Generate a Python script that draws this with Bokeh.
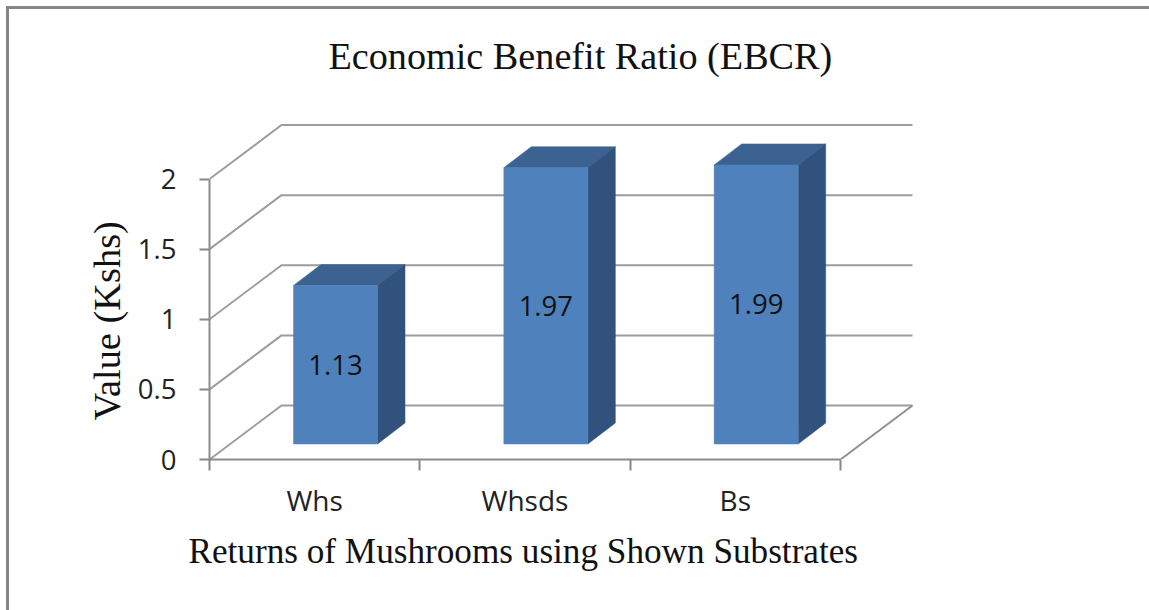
from bokeh.plotting import figure
from bokeh.models import FixedTicker, ColumnDataSource, InlineStyleSheet, Title
from bokeh.core.properties import value
from bokeh.embed import file_html
from bokeh.resources import INLINE

categories = ["Whs", "Whsds", "Bs"]
values = [1.13, 1.97, 1.99]
value_labels = ["1.13", "1.97", "1.99"]
y_ticks = [0, 0.5, 1, 1.5, 2]
y_tick_labels = ["0", "0.5", "1", "1.5", "2"]
title_text = "Economic Benefit Ratio (EBCR)"
x_title = "Returns of Mushrooms using Shown Substrates"
y_title = "Value (Kshs)"

PX_X = 210.33   # pixels per category
PX_Y = 140.25   # pixels per value unit
WALL_DX = 72 / PX_X
WALL_DY = 54 / PX_Y
BAR_LEFT = 84 / PX_X
BAR_W = 84 / PX_X
BAR_BASE = 15.5 / PX_Y
BAR_DX = 27.5 / PX_X
BAR_DY = 21 / PX_Y

W, H = 1149, 610
FL, FR, FT, FB = 209, 232, 121, 151
FW, FH = W - FL - FR, H - FT - FB

sheet = InlineStyleSheet(css="""
:host::before {content:""; position:fixed; z-index:10; left:6px; top:6px; width:2.5px; height:100vh; background:#868686;}
:host::after {content:""; position:fixed; z-index:10; left:6px; top:6px; height:2.5px; width:100vw; background:#868686;}
""")

p = figure(width=W, height=H, output_backend="svg", toolbar_location=None,
           x_range=(0, FW / PX_X), y_range=(0, FH / PX_Y),
           min_border_left=FL, min_border_right=FR, min_border_top=FT, min_border_bottom=FB,
           tools="", background_fill_color="white", border_fill_color="white",
           outline_line_color=None)
p.stylesheets = [sheet]
p.grid.visible = False

# back wall + side wall gridlines
xs, ys = [], []
for t in y_ticks:
    xs.append([0, WALL_DX, 3 + WALL_DX])
    ys.append([t, t + WALL_DY, t + WALL_DY])
p.multi_line(xs, ys, line_color="#9c9c9c", line_width=2)
# floor's right edge
p.line([3, 3 + WALL_DX], [0, WALL_DY], line_color="#909090", line_width=2)

# 3-D bars
for i, v in enumerate(values):
    x0 = i + BAR_LEFT
    x1 = x0 + BAR_W
    y0 = BAR_BASE
    y1 = BAR_BASE + v
    p.patch([x0, x1, x1 + BAR_DX, x0 + BAR_DX], [y1, y1, y1 + BAR_DY, y1 + BAR_DY],
            fill_color="#3C6291", line_color="#3C6291", line_width=0.5)
    p.patch([x1, x1 + BAR_DX, x1 + BAR_DX, x1], [y0, y0 + BAR_DY, y1 + BAR_DY, y1],
            fill_color="#31527C", line_color="#31527C", line_width=0.5)
    p.quad(left=x0, right=x1, bottom=y0, top=y1, fill_color="#4F81BD", line_color="#4F81BD", line_width=0.5)

src = ColumnDataSource(dict(
    x=[i + BAR_LEFT + BAR_W / 2 for i in range(3)],
    y=[BAR_BASE + v / 2 for v in values],
    t=value_labels))
p.text("x", "y", text="t", source=src, text_align="center", text_baseline="middle",
       text_font=value("Open Sans"), text_font_size="27.5px", text_color="#111111")

# axes
xa = p.xaxis[0]
xa.bounds = (0, 3)
xa.ticker = FixedTicker(ticks=[0.5, 1.5, 2.5], minor_ticks=[0, 1, 2, 3])
xa.major_label_overrides = {0.5: categories[0], 1.5: categories[1], 2.5: categories[2]}
xa.major_tick_in = 0
xa.major_tick_out = 0
xa.major_tick_line_color = None
xa.minor_tick_in = 0
xa.minor_tick_out = 11
xa.minor_tick_line_color = "#888888"
xa.minor_tick_line_width = 2
xa.axis_line_color = "#8c8c8c"
xa.axis_line_width = 2
xa.major_label_standoff = 10
xa.major_label_text_font = "Open Sans"
xa.major_label_text_font_size = "28px"
xa.major_label_text_color = "#222222"

ya = p.yaxis[0]
ya.bounds = (0, 2)
ya.ticker = FixedTicker(ticks=y_ticks, minor_ticks=[])
ya.major_label_overrides = {t: l for t, l in zip(y_ticks, y_tick_labels)}
ya.major_tick_in = 0
ya.major_tick_out = 10
ya.major_tick_line_color = "#888888"
ya.major_tick_line_width = 2
ya.axis_line_color = "#8c8c8c"
ya.axis_line_width = 2
ya.major_label_standoff = 23
ya.major_label_text_font = "Open Sans"
ya.major_label_text_font_size = "27.5px"
ya.major_label_text_color = "#222222"

p.title.text = title_text
p.title.align = "left"
p.title.offset = 119
p.title.text_font = "Liberation Serif"
p.title.text_font_style = "normal"
p.title.text_font_size = "38.2px"
p.title.text_color = "#111111"
p.title.standoff = 4

# empty spacer between the title and the plot area
p.add_layout(Title(text=" ", text_font_size="1px", standoff=40), "above")

p.add_layout(Title(text=x_title, align="left", offset=-21, text_font="Liberation Serif",
                   text_font_style="normal", text_font_size="35.2px", text_color="#111111",
                   standoff=17), "below")
p.add_layout(Title(text=y_title, align="left", offset=39, text_font="Liberation Serif",
                   text_font_style="normal", text_font_size="38.4px", text_color="#111111",
                   standoff=14), "left")

open("out.html", "w").write(file_html(p, INLINE))
